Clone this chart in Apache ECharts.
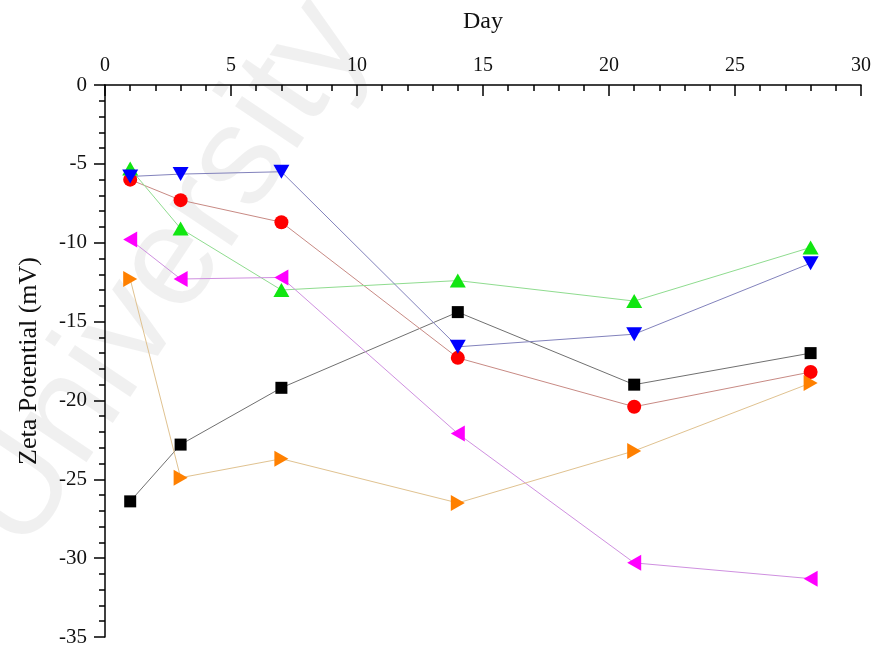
<!DOCTYPE html>
<html>
<head>
<meta charset="utf-8">
<script src="https://cdn.jsdelivr.net/npm/echarts@6/dist/echarts.min.js"></script>
<style>
  html, body { margin: 0; padding: 0; background: #fff; }
  #chart { width: 878px; height: 649px; }
</style>
</head>
<body>
<div id="chart"></div>
<script>
// Sampling days
const days = [1, 3, 7, 14, 21, 28];

// Zeta potential (mV) for each sample set
const seriesSquare   = [-26.4, -22.8, -19.2, -14.4, -19.0, -17.0];
const seriesCircle   = [-6.0, -7.3, -8.7, -17.3, -20.4, -18.2];
const seriesUp       = [-5.3, -9.1, -13.0, -12.4, -13.7, -10.3];
const seriesDown     = [-5.8, -5.65, -5.5, -16.6, -15.8, -11.3];
const seriesLeft     = [-9.8, -12.3, -12.2, -22.1, -30.3, -31.3];
const seriesRight    = [-12.3, -24.9, -23.7, -26.5, -23.2, -18.9];

// Axis ticks
const xTicks = [0, 5, 10, 15, 20, 25, 30];
const yTicks = [0, -5, -10, -15, -20, -25, -30, -35];

const FONT = '"Liberation Serif", "Times New Roman", serif';

function pairs(vals) {
  return days.map((d, i) => [d, vals[i]]);
}

function makeSeries(name, vals, symbol, size, rotate, markerColor, lineColor) {
  return {
    name: name,
    type: 'line',
    data: pairs(vals),
    symbol: symbol,
    symbolSize: size,
    symbolRotate: rotate,
    showAllSymbol: true,
    itemStyle: { color: markerColor, borderWidth: 0 },
    lineStyle: { color: lineColor, width: 1 },
    emphasis: { disabled: true },
    z: 3
  };
}

const chart = echarts.init(document.getElementById('chart'), null, { renderer: 'canvas' });

chart.setOption({
  animation: false,
  backgroundColor: '#ffffff',
  graphic: [{
    type: 'text',
    x: 165,
    y: 275,
    rotation: 0.98,
    z: -10,
    silent: true,
    style: {
      text: 'University',
      font: '400 142px "Liberation Sans", Arial, sans-serif',
      fill: 'rgba(0,0,0,0.06)',
      textAlign: 'center',
      textVerticalAlign: 'middle'
    }
  }],
  grid: { left: 105, right: 17, top: 85, bottom: 12, containLabel: false },
  xAxis: {
    type: 'value',
    position: 'top',
    min: xTicks[0],
    max: xTicks[xTicks.length - 1],
    interval: 5,
    name: 'Day',
    nameLocation: 'middle',
    nameGap: 51,
    nameTextStyle: { fontFamily: FONT, fontSize: 24, color: '#111' },
    axisLine: { show: true, onZero: false, lineStyle: { color: '#000', width: 1.5 } },
    axisTick: { show: true, inside: true, length: 11, lineStyle: { color: '#000', width: 1.5 } },
    minorTick: { show: true, splitNumber: 5, length: 6, lineStyle: { color: '#000', width: 1.5 } },
    axisLabel: { fontFamily: FONT, fontSize: 20, color: '#111', margin: 9 },
    splitLine: { show: false }
  },
  yAxis: {
    type: 'value',
    min: yTicks[yTicks.length - 1],
    max: yTicks[0],
    interval: 5,
    name: 'Zeta Potential (mV)',
    nameLocation: 'middle',
    nameGap: 63,
    nameRotate: 90,
    nameTextStyle: { fontFamily: FONT, fontSize: 26, color: '#111' },
    axisLine: { show: true, onZero: false, lineStyle: { color: '#000', width: 1.5 } },
    axisTick: { show: true, inside: false, length: 11, lineStyle: { color: '#000', width: 1.5 } },
    minorTick: { show: true, splitNumber: 5, length: 6, lineStyle: { color: '#000', width: 1.5 } },
    axisLabel: { fontFamily: FONT, fontSize: 21, color: '#111', margin: 18 },
    splitLine: { show: false }
  },
  series: [
    makeSeries('square', seriesSquare, 'rect', 12, 0, '#000000', '#707070'),
    makeSeries('circle', seriesCircle, 'circle', 14, 0, '#ff0000', '#c88a84'),
    makeSeries('up', seriesUp, 'triangle', [16, 14], 0, '#11e611', '#8fdc8f'),
    makeSeries('down', seriesDown, 'triangle', [16, 14], 180, '#0000ff', '#8282bc'),
    makeSeries('left', seriesLeft, 'triangle', [16, 14], 90, '#ff00ff', '#cf90e0'),
    makeSeries('right', seriesRight, 'triangle', [16, 14], -90, '#ff8000', '#e0c290')
  ]
});
</script>
</body>
</html>
